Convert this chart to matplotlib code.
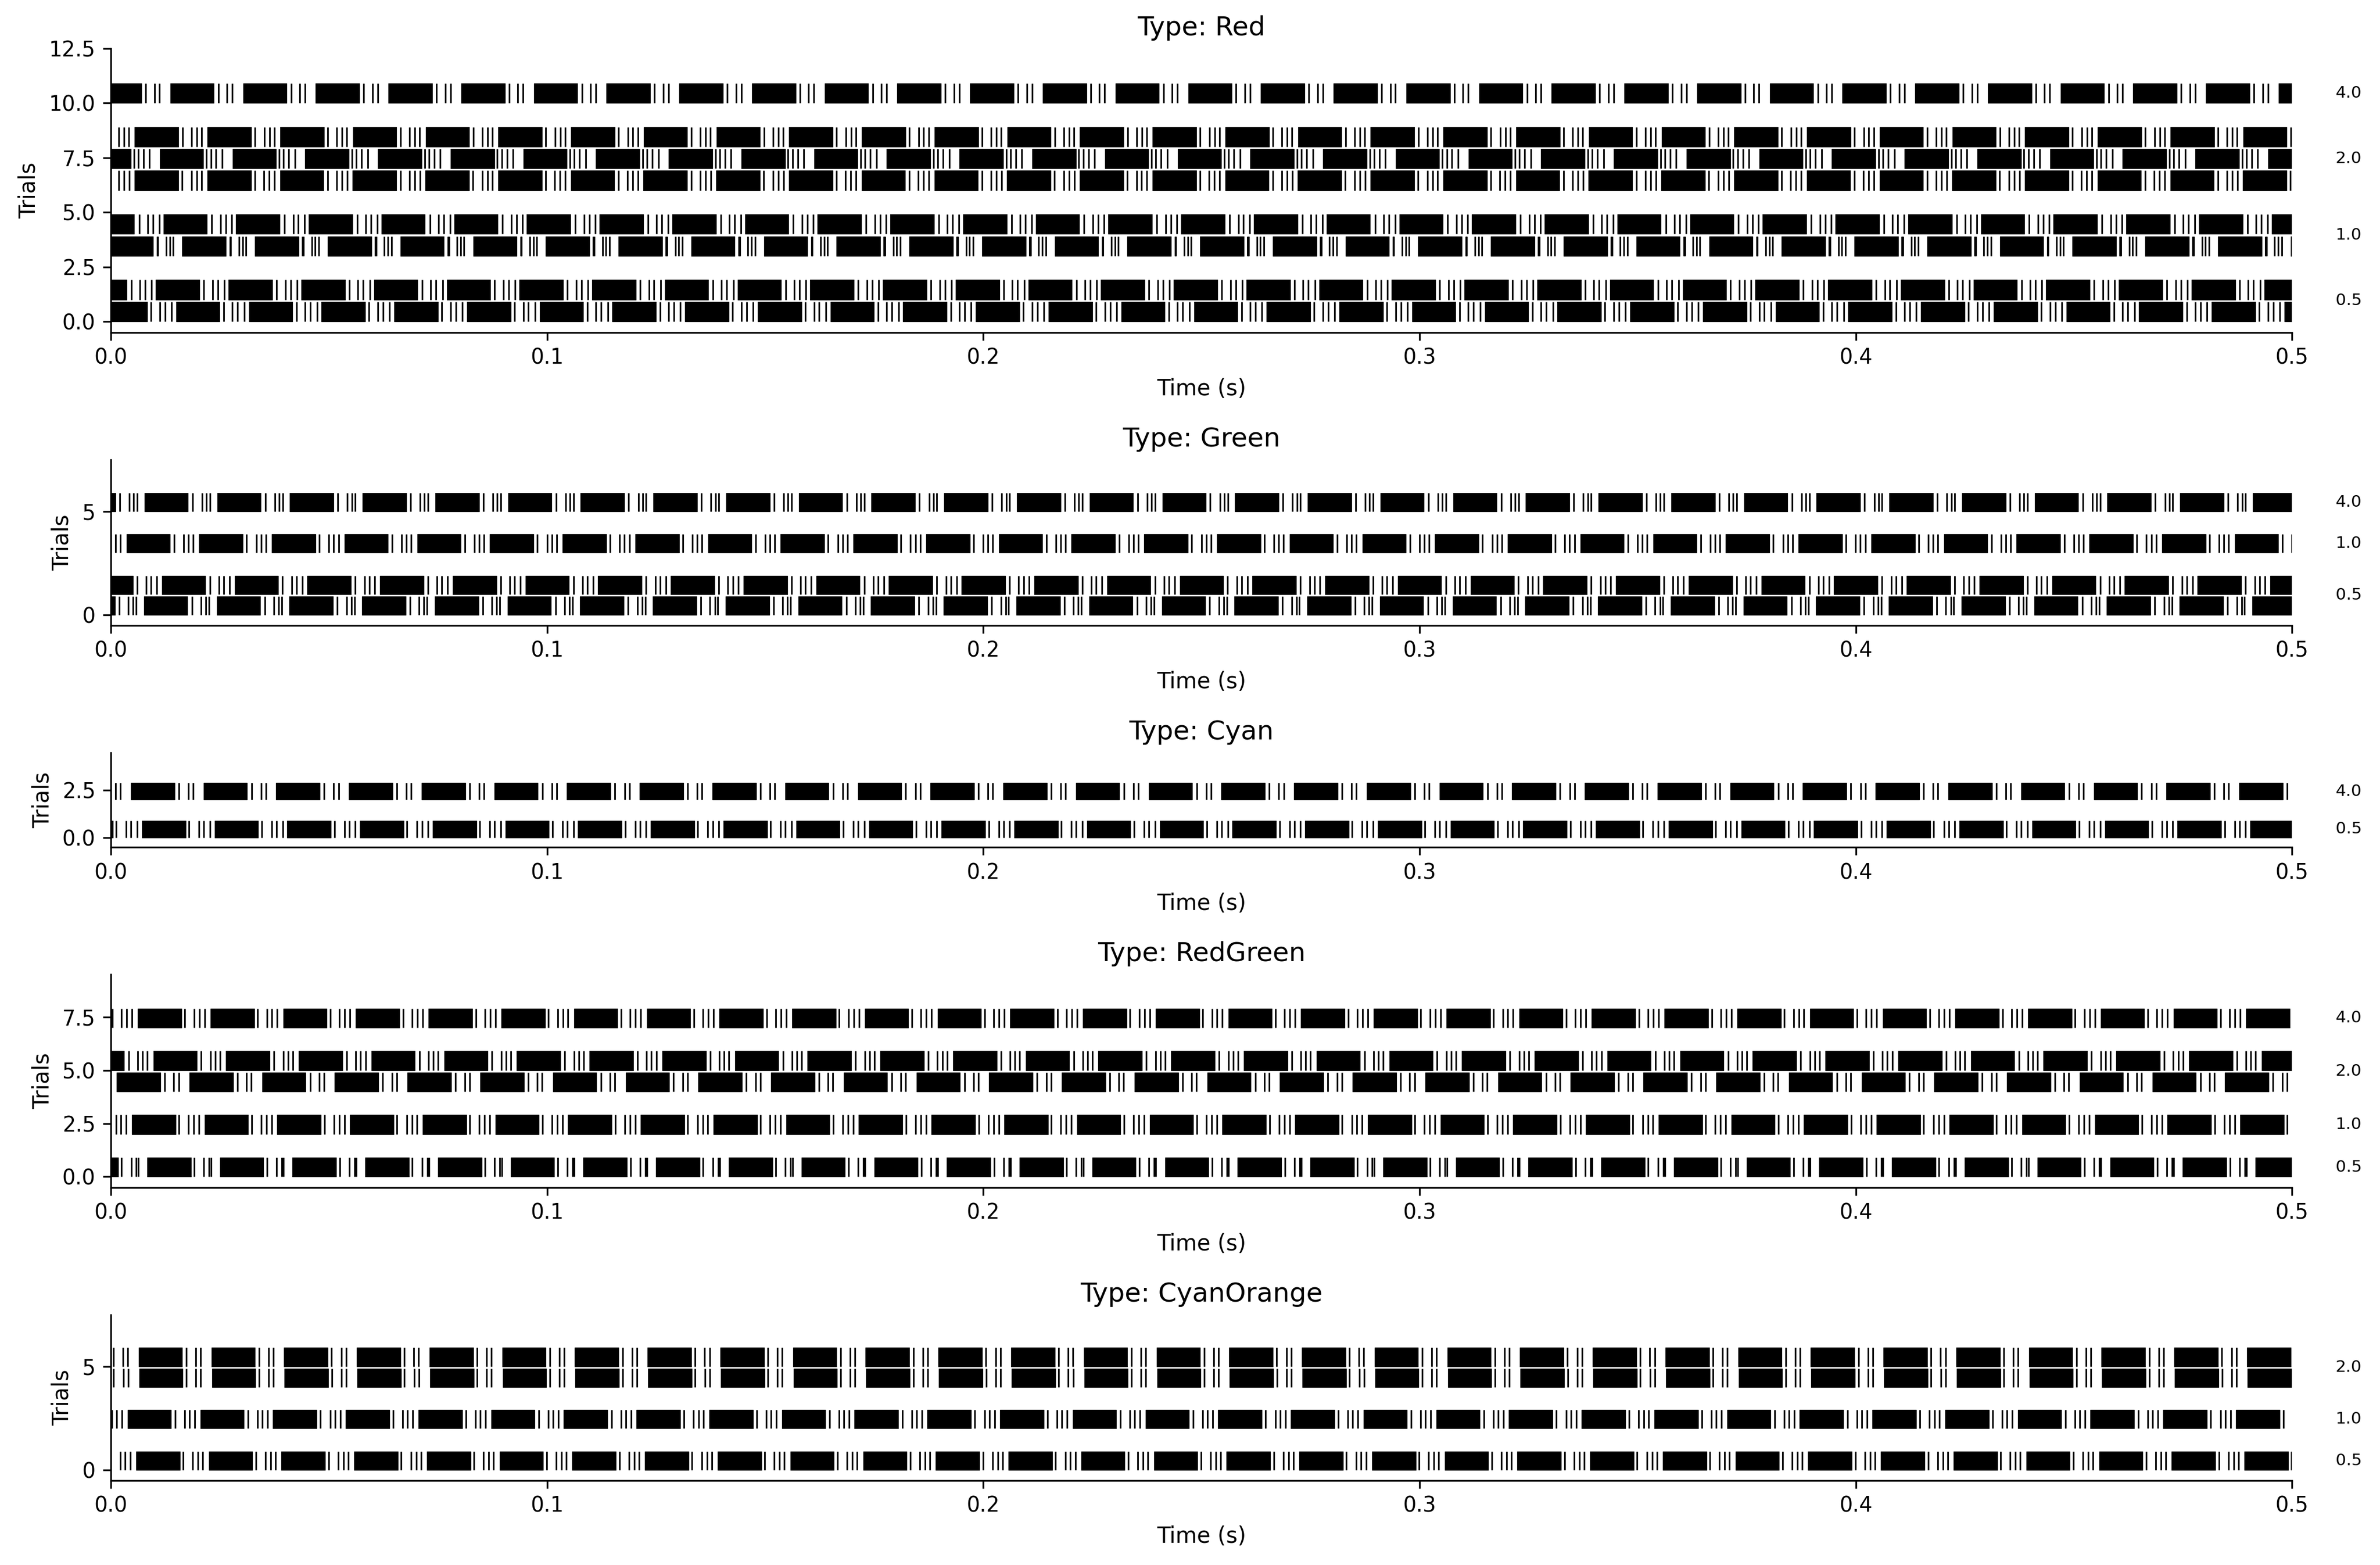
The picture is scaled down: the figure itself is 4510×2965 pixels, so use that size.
import numpy as np
import matplotlib.pyplot as plt
from matplotlib.ticker import MultipleLocator
from matplotlib.transforms import blended_transform_factory

period_ms = 1000 / 60
burst_ms = 10.0
n_cycles = 30

types = ['Red', 'Green', 'Cyan', 'RedGreen', 'CyanOrange']
ytick_steps = [2.5, 5, 2.5, 2.5, 5]

# per trial: level, burst onset phase in cycle (ms), tail spikes after onset (ms)
red_levels = [0.5, 0.5, 1.0, 1.0, 2.0, 2.0, 2.0, 4.0]
red_phase = [14.96, 10.32, 16.37, 12.02, 5.44, 11.21, 5.48, 13.63]
red_tail = [[10.9, 12.9, 14.1, 15.6], [11.0, 13.0, 14.2, 15.7],
            [10.9, 11.1, 13.0, 13.8, 14.6], [11.1, 13.1, 14.3, 15.7],
            [10.9, 13.0, 14.2, 15.4], [10.7, 11.7, 12.9, 14.3],
            [10.9, 13.0, 14.2, 15.3], [11.0, 13.0, 14.2]]

green_levels = [0.5, 0.5, 1.0, 4.0]
green_phase = [7.58, 11.69, 3.55, 7.70]
green_tail = [[11.0, 13.1, 14.2, 14.9], [11.0, 13.1, 14.2, 15.5],
              [10.9, 13.1, 14.2, 15.3], [11.0, 13.2, 14.2, 15.0]]

cyan_levels = [0.5, 4.0]
cyan_phase = [7.10, 4.56]
cyan_tail = [[10.8, 13.1, 14.2, 15.6], [11.0, 13.2, 14.3]]

redgreen_levels = [0.5, 1.0, 2.0, 2.0, 4.0]
redgreen_phase = [8.31, 4.80, 1.33, 9.72, 6.17]
redgreen_tail = [[10.8, 13.0, 14.2, 14.6], [10.8, 13.0, 14.2, 15.4],
                 [11.0, 13.1, 14.2], [11.0, 13.1, 14.2, 15.3],
                 [10.8, 12.9, 14.1, 15.3]]

cyanorange_levels = [0.5, 1.0, 2.0, 2.0]
cyanorange_phase = [5.77, 3.83, 6.49, 6.37]
cyanorange_tail = [[10.8, 13.0, 14.2, 15.3], [10.9, 13.1, 14.2, 15.4],
                   [10.8, 13.0, 14.1], [10.9, 13.1, 14.2]]

panels = [
    (red_levels, red_phase, red_tail),
    (green_levels, green_phase, green_tail),
    (cyan_levels, cyan_phase, cyan_tail),
    (redgreen_levels, redgreen_phase, redgreen_tail),
    (cyanorange_levels, cyanorange_phase, cyanorange_tail),
]


def row_offsets(levels):
    # one empty row between level groups
    offs = []
    pos = 0
    prev = None
    for lvl in levels:
        if prev is not None and lvl != prev:
            pos += 1
        offs.append(pos)
        pos += 1
        prev = lvl
    return offs


all_offs = [row_offsets(p[0]) for p in panels]
ratios = [o[-1] + 2 for o in all_offs]

fig = plt.figure(figsize=(4510 / 300, 2965 / 300), dpi=300)
gs = fig.add_gridspec(len(panels), 1, height_ratios=ratios,
                      left=0.0466, right=0.963, top=0.9691, bottom=0.0541,
                      hspace=0.689)

for i, (name, (levels, phases, tails), offs) in enumerate(zip(types, panels, all_offs)):
    ax = fig.add_subplot(gs[i])
    cycles = np.arange(-1, n_cycles + 1)
    for off, ph, tail in zip(offs, phases, tails):
        onsets = (ph + cycles * period_ms) / 1000
        ax.broken_barh([(t, burst_ms / 1000) for t in onsets], (off, 0.9),
                       facecolors='black', edgecolor='black', linewidth=0.3)
        spikes = (onsets[:, None] + np.array(tail)[None, :] / 1000).ravel()
        ax.vlines(spikes, off, off + 0.9, colors='black', linewidth=0.75)

    trans = blended_transform_factory(ax.transAxes, ax.transData)
    for lvl in sorted(set(levels)):
        ys = [o for o, l in zip(offs, levels) if l == lvl]
        ax.text(1.02, np.mean(ys) + 0.45, str(lvl), transform=trans,
                ha='left', va='center', fontsize=7.5)

    ax.set_xlim(0, 0.5)
    ax.set_ylim(-0.5, offs[-1] + 2.5)
    ax.yaxis.set_major_locator(MultipleLocator(ytick_steps[i]))
    ax.set_title(f'Type: {name}', fontsize=12)
    ax.set_xlabel('Time (s)', fontsize=10)
    ax.set_ylabel('Trials', fontsize=10)
    ax.tick_params(labelsize=9.5)
    ax.spines['top'].set_visible(False)
    ax.spines['right'].set_visible(False)

plt.savefig('out.png', dpi=300)
